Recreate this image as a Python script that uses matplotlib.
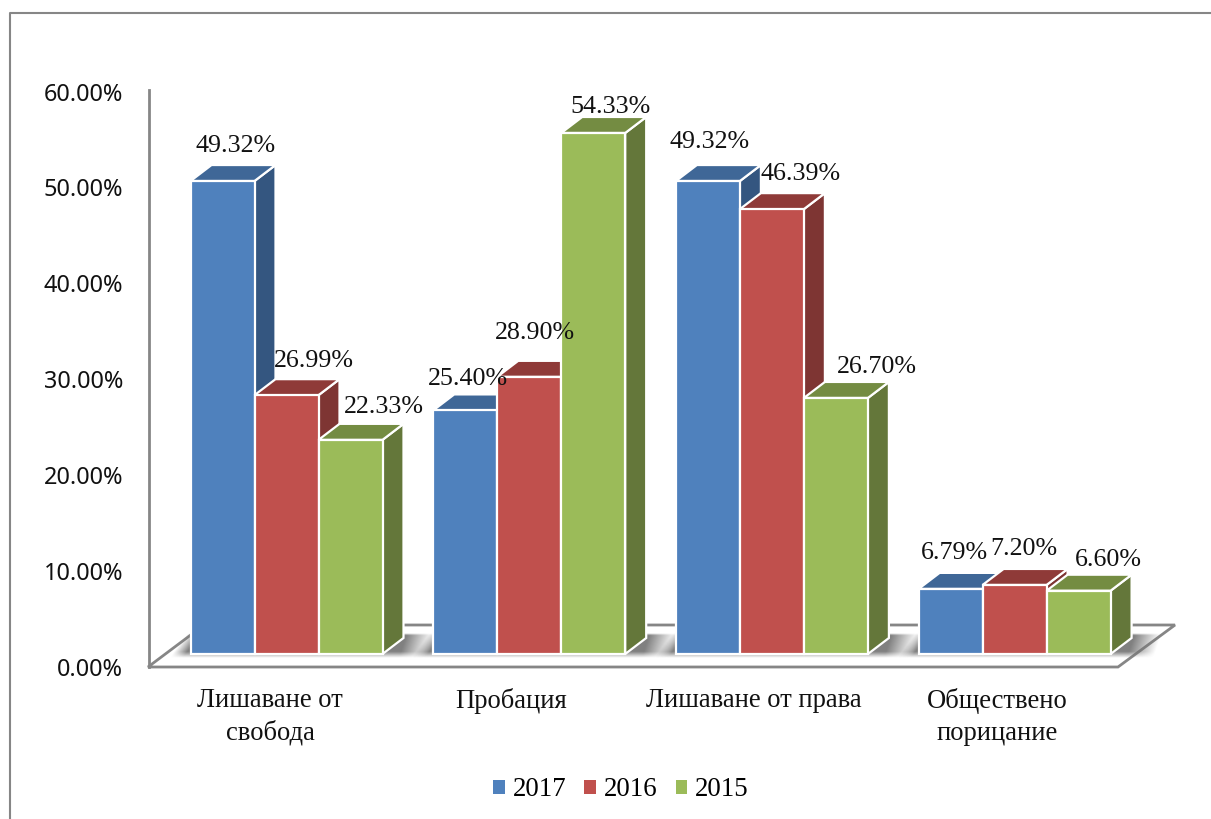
import numpy as np
import matplotlib
matplotlib.use('Agg')
import matplotlib.pyplot as plt
from matplotlib.patches import Polygon, Patch

categories = ['Лишаване от\nсвобода', 'Пробация', 'Лишаване от права', 'Обществено\nпорицание']
years = ['2017', '2016', '2015']
values_2017 = [49.32, 25.40, 49.32, 6.79]
values_2016 = [26.99, 28.90, 46.39, 7.20]
values_2015 = [22.33, 54.33, 26.70, 6.60]
y_ticks = [0, 10, 20, 30, 40, 50, 60]

front_colors = ['#4F81BD', '#C0504D', '#9BBB59']
top_colors = ['#3F6797', '#8F3A38', '#748C42']
side_colors = ['#345680', '#7E3533', '#64773A']
grey = '#868686'
serif = 'Liberation Serif'

# pixel scale of the picture
W, H = 1211, 819
group_px = 242.7
first_group_px = 286.5
unit_px = 9.59
base_px = 654
bar_w = 64 / group_px
depth_x = 21 / group_px
depth_y = 16 / unit_px


def px_x(px):
    return (px - first_group_px) / group_px


def px_y(px):
    return (base_px - px) / unit_px


def draw_bar(ax, x0, value, i):
    x1 = x0 + bar_w
    side = [(x1, 0), (x1 + depth_x, depth_y), (x1 + depth_x, value + depth_y), (x1, value)]
    top = [(x0, value), (x1, value), (x1 + depth_x, value + depth_y), (x0 + depth_x, value + depth_y)]
    front = [(x0, 0), (x1, 0), (x1, value), (x0, value)]
    for pts, col in [(side, side_colors[i]), (top, top_colors[i]), (front, front_colors[i])]:
        ax.add_patch(Polygon(pts, closed=True, facecolor=col, edgecolor='white',
                             linewidth=1.6, joinstyle='miter', zorder=5))


def draw_shadow(ax, g):
    # soft grey shadow on the floor, it leans with the depth of the bars
    left = g - 1.5 * bar_w - 22 / group_px
    right = g + 1.5 * bar_w + depth_x + 30 / group_px
    fx = np.linspace(0, 1, 260)
    fy = np.linspace(0, 1, 48)
    xx, yy = np.meshgrid(fx, fy)
    lean = xx + 0.03 * yy
    edge_l = np.clip((xx - 0.07 * (1 - yy)) / 0.05, 0, 1)
    edge_r = np.clip((1 - lean) / 0.1, 0, 1)
    edge_t = np.clip(yy / 0.08, 0, 1)
    edge_b = np.clip((1 - yy) / 0.25, 0, 1)
    alpha = 0.9 * edge_l * edge_r * edge_t * edge_b
    img = np.zeros((48, 260, 4))
    img[..., :3] = 0.45
    img[..., 3] = alpha
    ax.imshow(img, extent=[left, right, px_y(658), px_y(633)], origin='upper',
              aspect='auto', zorder=2, interpolation='bilinear')


fig = plt.figure(figsize=(W / 100, H / 100), dpi=100)
ax = fig.add_axes([0, 0, 1, 1])

# outer frame of the picture
ax.plot([px_x(10), px_x(10), px_x(W)], [px_y(H), px_y(13), px_y(13)],
        color=grey, linewidth=1.5, zorder=1)

# floor and value axis
floor = [(px_x(148), px_y(667)), (px_x(1118), px_y(667)), (px_x(1175), px_y(625)), (px_x(204), px_y(625))]
ax.add_patch(Polygon(floor, closed=True, facecolor='white', edgecolor=grey, linewidth=2, zorder=1))
ax.plot([px_x(149), px_x(149)], [px_y(667), px_y(90)], color=grey, linewidth=2, zorder=1)

for t in y_ticks:
    ax.text(px_x(123), t - 16 / unit_px, f'{t:.2f}%', ha='right', va='center',
            family='Noto Sans', fontsize=16.9, color='#111111')

series = [values_2017, values_2016, values_2015]
for g in range(len(categories)):
    draw_shadow(ax, g)
    for i, vals in enumerate(series):
        draw_bar(ax, g + (i - 1.5) * bar_w, vals[g], i)

# data labels sit by hand in the original, each one at its own spot
label_x = [[236, 468, 710, 954], [314, 535, 801, 1024], [384, 611, 877, 1108]]
label_y = [[146, 379, 142, 553], [361, 333, 174, 549], [407, 107, 367, 560]]
for i, vals in enumerate(series):
    for g, v in enumerate(vals):
        ax.text(px_x(label_x[i][g]), px_y(label_y[i][g]), f'{v:.2f}%', ha='center', va='center',
                family=serif, fontsize=18.7, color='#111111', zorder=6)

cat_x = [270, 511, 754, 997]
cat_y = [688, 688, 688, 688]
for g, name in enumerate(categories):
    ax.text(px_x(cat_x[g]), px_y(cat_y[g]), name, ha='center', va='top', family=serif,
            fontsize=19.2, linespacing=1.38, color='#111111')

handles = [Patch(facecolor=c, edgecolor='none', label=y) for c, y in zip(front_colors, years)]
ax.legend(handles=handles, loc='center', bbox_to_anchor=(621 / W, 1 - 790 / H), ncol=3, frameon=False,
          prop={'family': serif, 'size': 19.4}, handlelength=0.42, handleheight=0.42,
          handletextpad=0.3, columnspacing=0.67)

ax.set_xlim(px_x(0), px_x(W))
ax.set_ylim(px_y(H), px_y(0))
ax.axis('off')

fig.savefig('out.png', dpi=100)
